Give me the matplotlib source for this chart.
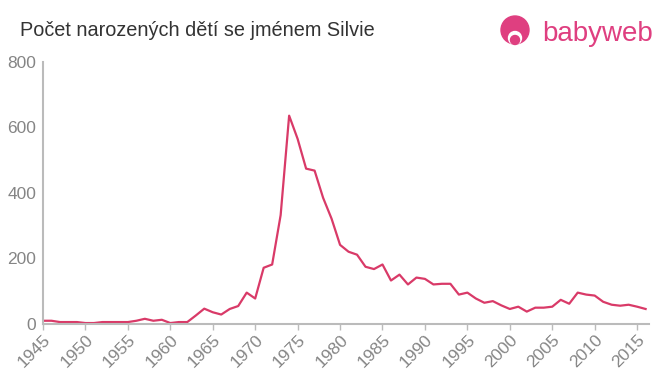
import matplotlib.pyplot as plt
from matplotlib.patches import Circle

plt.rcParams['font.family'] = ['Liberation Sans', 'DejaVu Sans']

# Data
years = list(range(1945, 2017))
counts = [9, 9, 5, 5, 5, 2, 2, 5, 5, 5,
          5, 9, 15, 9, 12, 2, 5, 5, 25, 46,
          35, 28, 45, 54, 95, 77, 171, 181, 332, 636,
          565, 474, 468, 385, 321, 241, 220, 211, 174, 167,
          181, 132, 150, 120, 141, 137, 120, 122, 122, 89,
          95, 77, 64, 69, 56, 45, 52, 37, 49, 49,
          52, 73, 61, 95, 89, 86, 67, 58, 55, 58,
          52, 45]
xticks = list(range(1945, 2016, 5))
yticks = [0, 200, 400, 600, 800]

line_color = '#d93a68'
logo_color = '#df3f80'
grey = '#858585'

fig = plt.figure(figsize=(6.6, 3.75), dpi=100)
ax = fig.add_axes([43 / 660, 51.3 / 375, (649 - 43) / 660, (323.7 - 62) / 375])

ax.plot(years, counts, color=line_color, linewidth=1.6)

ax.set_xlim(1945, 2016.4)
ax.set_ylim(0, 800)
ax.set_xticks(xticks)
ax.set_xticklabels([str(t) for t in xticks], rotation=45, ha='right',
                   rotation_mode='anchor', fontsize=12.5, color=grey)
ax.set_yticks(yticks)
ax.set_yticklabels([str(t) for t in yticks], fontsize=12.5, color=grey)
ax.tick_params(axis='y', length=0, pad=5)
ax.tick_params(axis='x', length=4, color='#bbbbbb', width=1, pad=2)

for side in ['top', 'right']:
    ax.spines[side].set_visible(False)
for side in ['left', 'bottom']:
    ax.spines[side].set_color('#bbbbbb')
    ax.spines[side].set_linewidth(1.5)

fig.text(20 / 660, 1 - 31 / 375, 'Počet narozených dětí se jménem Silvie',
         fontsize=14.3, color='#333333', va='center', ha='left')

# logo
logo = fig.add_axes([0, 0, 1, 1], facecolor='none')
logo.set_xlim(0, 660)
logo.set_ylim(375, 0)
logo.axis('off')
logo.add_patch(Circle((515, 30), 14, color=logo_color))
logo.add_patch(Circle((515, 38), 6.5, color='white'))
logo.add_patch(Circle((515, 40), 4.5, color=logo_color))
logo.text(542, 34, 'babyweb', fontsize=20, color=logo_color,
          va='center', ha='left')

fig.savefig('out.png', dpi=100)
